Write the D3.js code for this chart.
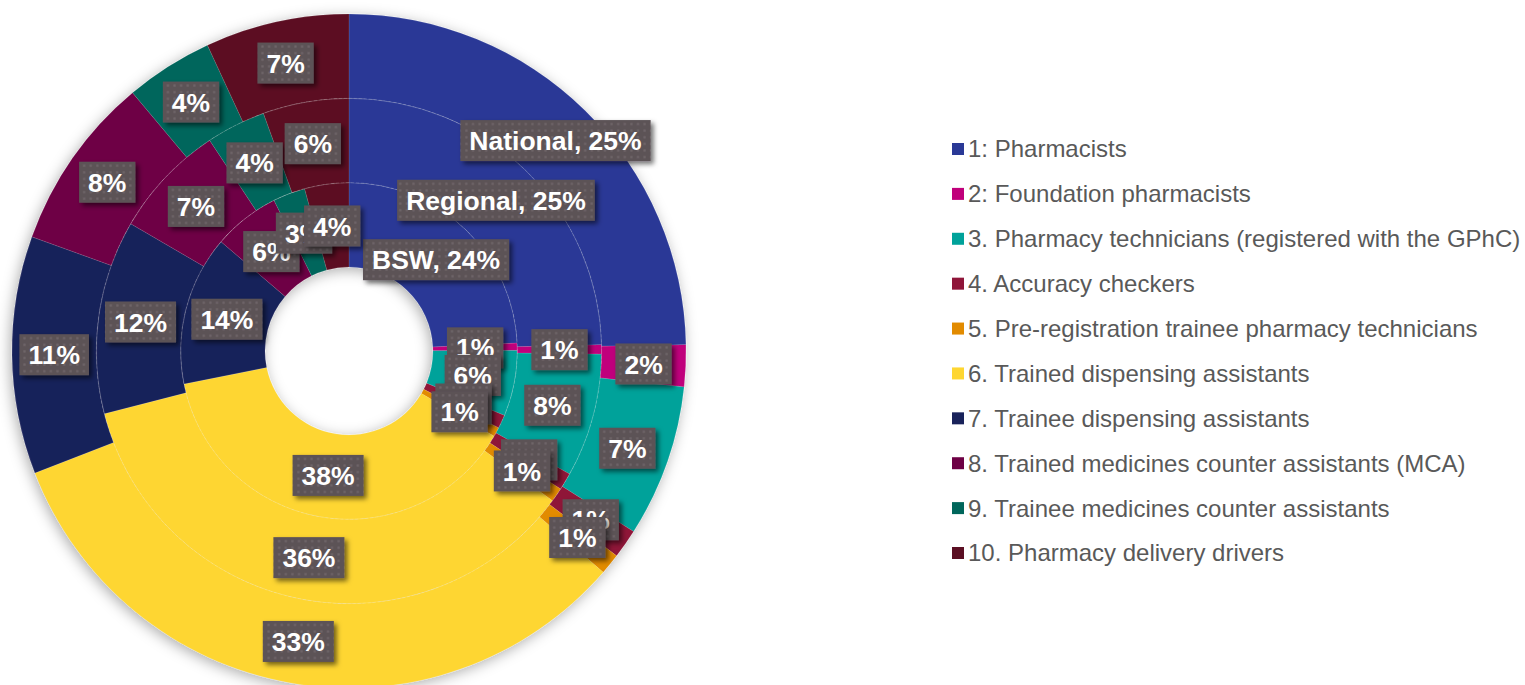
<!DOCTYPE html>
<html><head><meta charset="utf-8">
<script src="https://cdn.jsdelivr.net/npm/d3@7"></script>
<style>body{margin:0;background:#fff;} svg{display:block;}</style>
</head><body>
<svg id="chart" width="1525" height="685"></svg>
<script>
// ---- data ----
const categories = [
  "1: Pharmacists",
  "2: Foundation pharmacists",
  "3. Pharmacy technicians (registered with the GPhC)",
  "4. Accuracy checkers",
  "5. Pre-registration trainee pharmacy technicians",
  "6. Trained dispensing assistants",
  "7. Trainee dispensing assistants",
  "8. Trained medicines counter assistants (MCA)",
  "9. Trainee medicines counter assistants",
  "10. Pharmacy delivery drivers"
];
const colors = ["#2a3996","#c0007b","#00a29a","#8f1539","#e28b00","#fed631","#19225a","#6e0045","#00665b","#5b0f23"];
const seriesNames = ["BSW", "Regional", "National"];          // inner -> outer
const bswValues      = [24.25, 0.7, 6.3, 1.3, 0.9, 38.4, 14.4, 6.4, 3.1, 4.25];
const regionalValues = [24.6, 0.6, 7.9, 1.1, 0.9, 35.9, 12.4, 7.3, 3.8, 5.5];
const nationalValues = [24.7, 2.0, 7.3, 1.4, 1.0, 32.7, 11.4, 8.4, 4.2, 6.9];
const seriesValues = [bswValues, regionalValues, nationalValues];

// ---- setup ----
const svg = d3.select("#chart");
const cx = 349, cy = 351;
const ringR = d3.scaleLinear().domain([0, 3]).range([84, 337]);

const defs = svg.append("defs");
const f1 = defs.append("filter").attr("id","donutShadow").attr("x","-20%").attr("y","-20%").attr("width","140%").attr("height","140%");
f1.append("feDropShadow").attr("dx",-2).attr("dy",3).attr("stdDeviation",7).attr("flood-color","#000").attr("flood-opacity",0.32);
const f2 = defs.append("filter").attr("id","boxShadow").attr("x","-20%").attr("y","-30%").attr("width","150%").attr("height","170%");
f2.append("feDropShadow").attr("dx",3).attr("dy",3).attr("stdDeviation",2.5).attr("flood-color","#000").attr("flood-opacity",0.55);
const pat = defs.append("pattern").attr("id","dots").attr("width",6.6).attr("height",6.6).attr("patternUnits","userSpaceOnUse");
pat.append("rect").attr("width",6.6).attr("height",6.6).attr("fill","#5c5256");
pat.append("rect").attr("x",2.2).attr("y",2.2).attr("width",2.2).attr("height",2.2).attr("fill","#6f6669");

const g = svg.append("g").attr("transform", `translate(${cx},${cy})`);
const pie = d3.pie().sort(null).value(d => d).startAngle(0).endAngle(2 * Math.PI);

const donut = g.append("g").attr("filter", "url(#donutShadow)");
const arcsBySeries = seriesValues.map((vals, s) => {
  const arc = d3.arc().innerRadius(ringR(s)).outerRadius(ringR(s + 1));
  const arcs = pie(vals);
  donut.append("g").selectAll("path").data(arcs).join("path")
    .attr("d", arc)
    .attr("fill", (d, i) => colors[i])
    .attr("stroke", "rgba(255,255,255,0.14)")
    .attr("stroke-width", 0.7);
  return {arc, arcs};
});
// faint ring separators
g.append("g").selectAll("circle").data([1, 2]).join("circle")
  .attr("r", d => ringR(d)).attr("fill", "none")
  .attr("stroke", "rgba(255,255,255,0.2)").attr("stroke-width", 0.7)
  .attr("stroke-dasharray", "3,2");

// ---- data labels ----
const labelLayer = g.append("g");
arcsBySeries.forEach(({arc, arcs}, s) => {
  arcs.forEach((d, i) => {
    const [x, y] = arc.centroid(d);
    const txt = (i === 0 ? seriesNames[s] + ", " : "") + Math.round(d.data) + "%";
    const lg = labelLayer.append("g").attr("transform", `translate(${x},${y})`);
    const rect = lg.append("rect");
    const t = lg.append("text").text(txt)
      .attr("text-anchor", "middle").attr("dy", "0.36em")
      .attr("font-family", "'Liberation Sans', Arial, sans-serif")
      .attr("font-weight", "bold").attr("font-size", 26.5).attr("fill", "#ffffff");
    const w = t.node().getComputedTextLength() + 18, h = 41;
    rect.attr("x", -w / 2).attr("y", -h / 2).attr("width", w).attr("height", h)
      .attr("fill", "url(#dots)").attr("filter", "url(#boxShadow)");
  });
});

// ---- legend ----
const legendY = d3.scalePoint().domain(categories).range([149, 553]);
const legend = svg.append("g");
const items = legend.selectAll("g").data(categories).join("g")
  .attr("transform", d => `translate(952,${legendY(d)})`);
items.append("rect").attr("x", 0).attr("y", -6).attr("width", 12).attr("height", 12)
  .attr("fill", (d, i) => colors[i]);
items.append("text").attr("x", 16).attr("dy", "0.35em").text(d => d)
  .attr("font-family", "'Liberation Sans', Arial, sans-serif")
  .attr("font-size", 24).attr("fill", "#595959");
</script>
</body></html>
